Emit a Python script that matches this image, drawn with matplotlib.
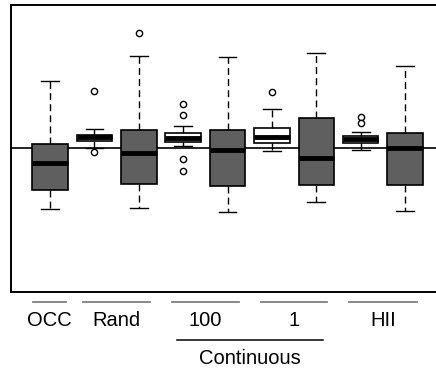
import matplotlib
matplotlib.use("Agg")
import matplotlib.pyplot as plt
import matplotlib.transforms as mtransforms

plt.rcParams['font.family'] = ['Liberation Sans', 'DejaVu Sans']

# box statistics (arbitrary units, 0 = reference line), white/gray alternating
positions = [1, 2, 3, 4, 5, 6, 7, 8, 9]
q1 = [-0.84, 0.14, -0.72, 0.12, -0.76, 0.10, -0.74, 0.10, -0.74]
med = [-0.30, 0.22, -0.10, 0.20, -0.04, 0.22, -0.20, 0.18, 0.00]
q3 = [0.08, 0.26, 0.36, 0.30, 0.36, 0.40, 0.60, 0.24, 0.30]
whislo = [-1.22, 0.00, -1.20, 0.04, -1.28, -0.06, -1.08, -0.04, -1.26]
whishi = [1.34, 0.38, 1.84, 0.44, 1.82, 0.78, 1.90, 0.32, 1.64]
fliers = [[], [1.14, -0.08], [2.30], [0.88, 0.66, -0.22, -0.46], [], [1.12], [], [0.62, 0.50], []]
fills = ['#5f5f5f', 'white', '#5f5f5f', 'white', '#5f5f5f', 'white', '#5f5f5f', 'white', '#5f5f5f']

group_labels = ['OCC', 'Rand', '100', '1', 'HII']
group_spans = [(0.62, 1.36), (1.74, 3.25), (3.74, 5.25), (5.75, 7.25), (7.74, 9.27)]
super_label = 'Continuous'
super_span = (3.86, 7.15)

fig = plt.figure(figsize=(4.36, 3.74), dpi=100)
ax = fig.add_axes([0.0252, 0.2193, 0.9954, 0.7674])

stats = []
for i in range(len(positions)):
    stats.append(dict(q1=q1[i], med=med[i], q3=q3[i], whislo=whislo[i],
                      whishi=whishi[i], fliers=fliers[i]))

bp = ax.bxp(stats, positions=positions, widths=0.8, patch_artist=True,
            boxprops=dict(edgecolor='black', linewidth=1.2),
            medianprops=dict(color='black', linewidth=3.5),
            whiskerprops=dict(color='black', linewidth=1.0, linestyle=(0, (5, 3))),
            capprops=dict(color='black', linewidth=1.0),
            flierprops=dict(marker='o', markersize=4.5, markerfacecolor='white',
                            markeredgecolor='black', markeredgewidth=1.0))
for patch, c in zip(bp['boxes'], fills):
    patch.set_facecolor(c)
for cap in bp['caps']:
    x = cap.get_xdata()
    m = (x[0] + x[1]) / 2
    cap.set_xdata([m - 0.2, m + 0.2])

ax.axhline(0, color='black', linewidth=1.2, zorder=0.5)

ax.set_xlim(0.12, 9.9)
ax.set_ylim(-2.88, 2.86)
ax.set_xticks([])
ax.set_yticks([])
for s in ax.spines.values():
    s.set_linewidth(1.4)

trans = mtransforms.blended_transform_factory(ax.transData, ax.transAxes)
for lab, (a, b) in zip(group_labels, group_spans):
    ax.plot([a, b], [-0.035, -0.035], color='#808080', linewidth=1.3,
            transform=trans, clip_on=False)
    ax.text((a + b) / 2, -0.101, lab, transform=trans, ha='center', va='center',
            fontsize=14.5)

ax.plot(super_span, [-0.167, -0.167], color='black', linewidth=1.1,
        transform=trans, clip_on=False)
ax.text(sum(super_span) / 2, -0.232, super_label, transform=trans,
        ha='center', va='center', fontsize=14.5)

fig.savefig('out.png', dpi=100)
